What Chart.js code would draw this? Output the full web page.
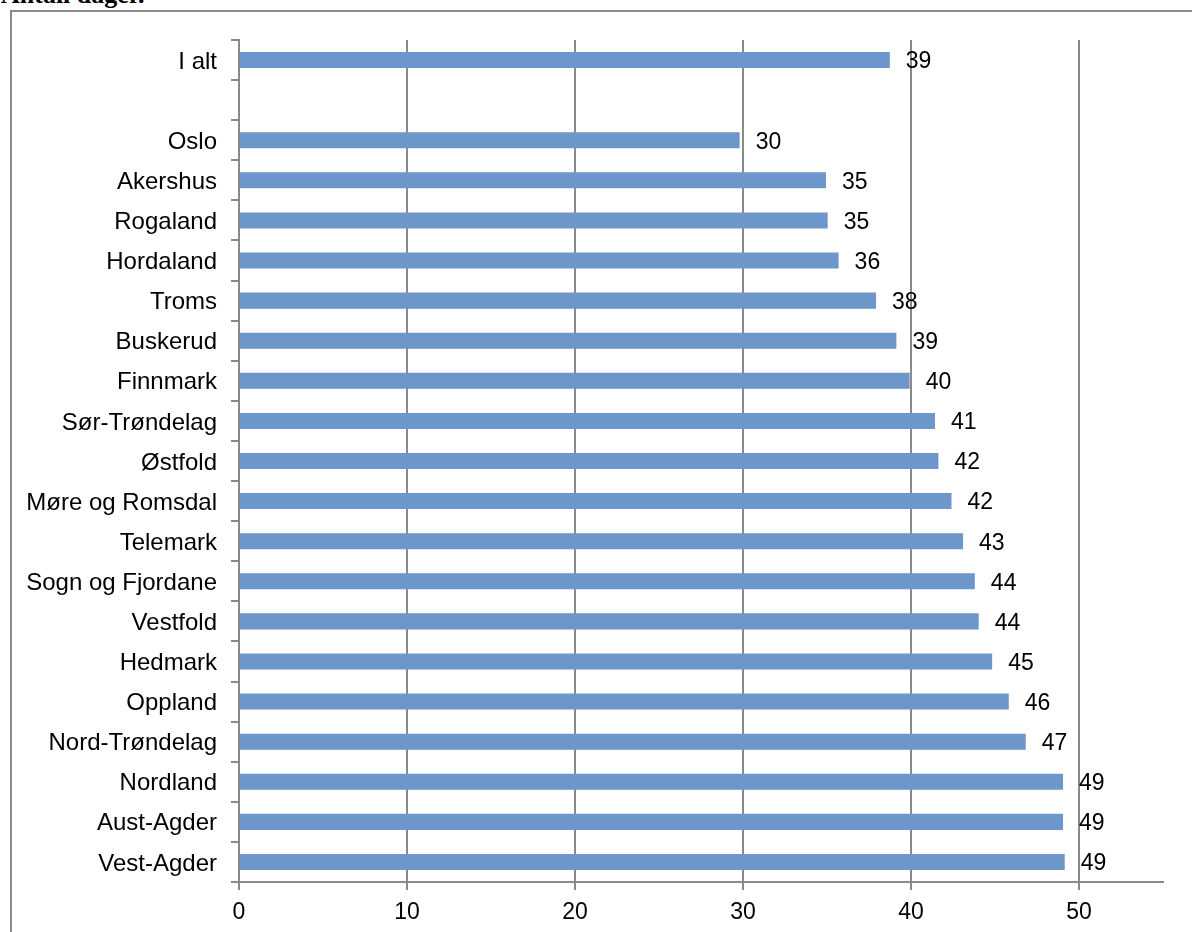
<!DOCTYPE html>
<html>
<head>
<meta charset="utf-8">
<script src="https://cdn.jsdelivr.net/npm/chart.js@4/dist/chart.umd.min.js"></script>
<style>
  html, body { margin: 0; padding: 0; background: #ffffff; overflow: hidden; }
  #wrap { position: relative; width: 1192px; height: 932px; }
  #frame { position: absolute; left: 10px; top: 10px; width: 1300px; height: 1100px; border-left: 2px solid #8a8a8a; border-top: 2px solid #8a8a8a; box-sizing: border-box; }
  #title { position: absolute; left: 1px; top: -18px; font-family: "Liberation Serif", "Times New Roman", serif; font-weight: bold; font-size: 26px; line-height: 26px; color: #000; white-space: nowrap; }
  canvas { position: absolute; left: 0; top: 0; }
</style>
</head>
<body>
<div id="wrap">
  <div id="frame"></div>
  <div id="title">Antall dager.</div>
  <canvas id="c" width="1192" height="932"></canvas>
</div>
<script>
const categories = ['I alt', '', 'Oslo', 'Akershus', 'Rogaland', 'Hordaland', 'Troms', 'Buskerud', 'Finnmark', 'Sør-Trøndelag', 'Østfold', 'Møre og Romsdal', 'Telemark', 'Sogn og Fjordane', 'Vestfold', 'Hedmark', 'Oppland', 'Nord-Trøndelag', 'Nordland', 'Aust-Agder', 'Vest-Agder'];
const values = [38.74, null, 29.8, 34.94, 35.04, 35.69, 37.92, 39.13, 39.92, 41.43, 41.63, 42.41, 43.10, 43.80, 44.03, 44.83, 45.82, 46.83, 49.05, 49.05, 49.15];
const xTickMin = 0;
const xTickMax = 55;
const xTickStep = 10;

const FONT = '"Liberation Sans", Arial, sans-serif';
const GRAY = '#8a8a8a';

const valueLabels = {
  id: 'valueLabels',
  afterDatasetsDraw(chart) {
    const ctx = chart.ctx;
    const meta = chart.getDatasetMeta(0);
    ctx.save();
    ctx.font = '23px ' + FONT;
    ctx.fillStyle = '#000';
    ctx.textAlign = 'left';
    ctx.textBaseline = 'middle';
    meta.data.forEach((bar, i) => {
      const v = chart.data.datasets[0].data[i];
      if (v === null || v === undefined) return;
      ctx.fillText(String(Math.round(v)), bar.x + 16, bar.y + 2);
    });
    ctx.restore();
  }
};

new Chart(document.getElementById('c'), {
  type: 'bar',
  data: {
    labels: categories,
    datasets: [{
      data: values,
      backgroundColor: '#6d96cb',
      borderWidth: 0,
      barPercentage: 0.4,
      categoryPercentage: 1.0
    }]
  },
  options: {
    indexAxis: 'y',
    responsive: false,
    animation: false,
    events: [],
    layout: { padding: { top: 40, right: 29, bottom: 0, left: 0 } },
    plugins: { legend: { display: false }, tooltip: { enabled: false }, title: { display: false } },
    scales: {
      x: {
        min: xTickMin,
        max: xTickMax,
        afterFit(scale) { scale.height = 50; },
        ticks: {
          stepSize: xTickStep,
          includeBounds: false,
          color: '#000',
          font: { family: FONT, size: 23 },
          padding: 9
        },
        grid: { color: GRAY, lineWidth: 2, tickLength: 8, tickColor: GRAY },
        border: { color: GRAY, width: 2 }
      },
      y: {
        afterFit(scale) { scale.width = 239; },
        ticks: {
          color: '#000',
          font: { family: FONT, size: 24 },
          padding: 14,
          labelOffset: 2,
          autoSkip: false
        },
        grid: { drawOnChartArea: false, offset: true, color: GRAY, lineWidth: 2, tickLength: 8 },
        border: { color: GRAY, width: 2 }
      }
    }
  },
  plugins: [valueLabels]
});
</script>
</body>
</html>
